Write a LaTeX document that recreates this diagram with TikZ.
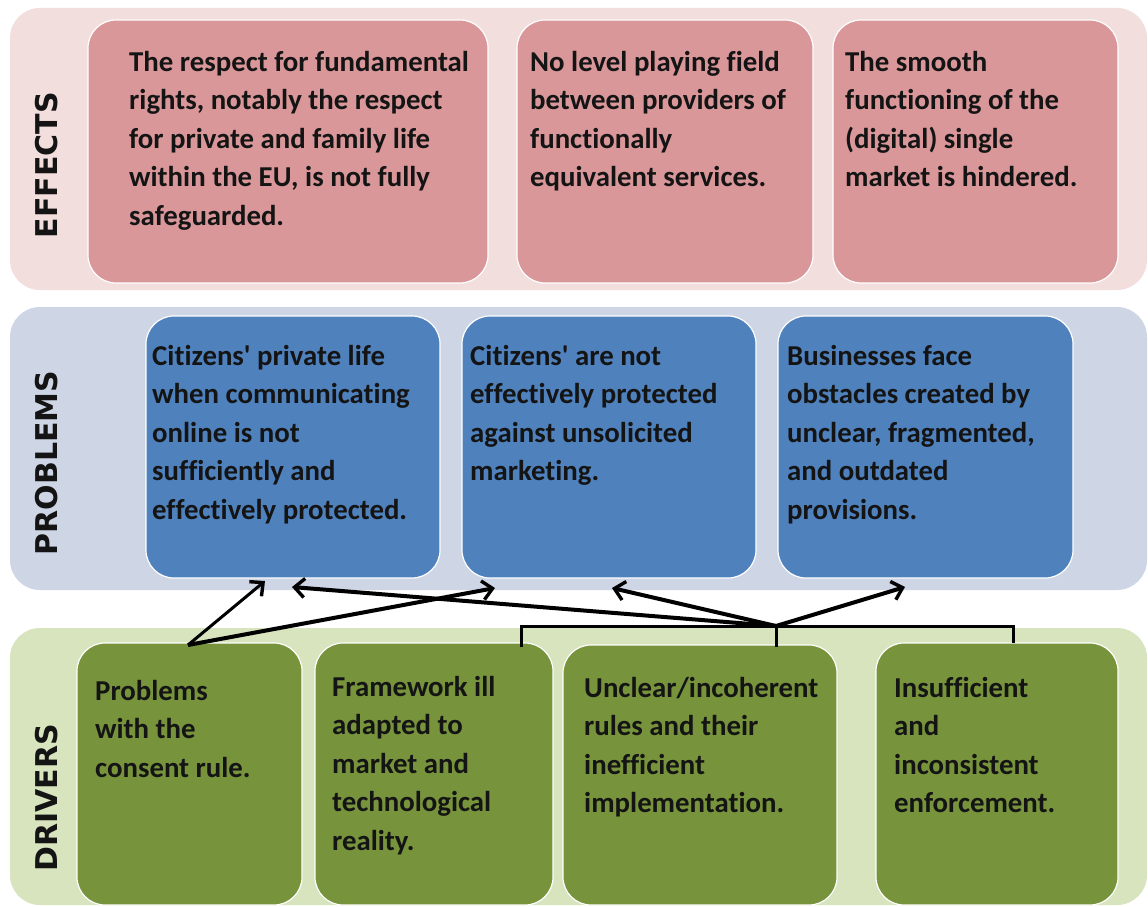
\documentclass[tikz,border=0pt]{standalone}
\usepackage{fontspec}
\setmainfont[Ligatures={CommonOff,TeXOff}]{Carlito}
\newfontfamily\labfont{DejaVu Sans}
\usetikzlibrary{arrows.meta,calc}
\definecolor{effband}{HTML}{F2DEDD}
\definecolor{effbox}{HTML}{D9979A}
\definecolor{probband}{HTML}{CED6E6}
\definecolor{probbox}{HTML}{4F81BD}
\definecolor{drvband}{HTML}{D7E4BD}
\definecolor{drvbox}{HTML}{77933C}
\definecolor{txt}{HTML}{141414}
\tikzset{
  band/.style={rounded corners=30pt},
  box/.style={rounded corners=28pt, draw=white, line width=1.2pt},
  boxtext/.style={anchor=north west, inner sep=0pt, align=left, text=txt,
    font=\fontsize{28.8}{38.4}\selectfont\bfseries},
  lab/.style={rotate=90, inner sep=0pt, text=txt,
    font=\labfont\fontsize{30}{32}\selectfont\bfseries},
  conn/.style={line width=4pt, -{Straight Barb[length=10pt,width=19pt,line width=3.4pt]}},
  brk/.style={line width=3pt}
}
\begin{document}
\begin{tikzpicture}[x=1pt,y=-1pt]
\useasboundingbox (0,0) rectangle (1148,907);
\fill[white] (0,0) rectangle (1148,907);
% bands
\fill[band, effband] (10,8) rectangle (1147,290);
\fill[band, probband] (10,307) rectangle (1147,590);
\fill[band, drvband] (10,628) rectangle (1147,905);
% band labels
\node[lab] (leff) at (47,165) {EFFECTS};
\node[lab] (lprob) at (47,463) {PROBLEMS};
\node[lab] (ldrv) at (47,798) {DRIVERS};
% effects boxes
\path[box, fill=effbox] (88,20) rectangle (488,283) node[pos=0.5] (e1) {};
\path[box, fill=effbox] (517,20) rectangle (813,283) node[pos=0.5] (e2) {};
\path[box, fill=effbox] (833,20) rectangle (1118,283) node[pos=0.5] (e3) {};
\node[boxtext] (te1) at (129,51) {The respect for fundamental\\rights, notably the respect\\for private and family life\\within the EU, is not fully\\safeguarded.};
\node[boxtext] (te2) at (530,51) {No level playing field\\between providers of\\functionally\\equivalent services.};
\node[boxtext] (te3) at (845,51) {The smooth\\functioning of the\\(digital) single\\market is hindered.};
% problem boxes
\path[box, fill=probbox] (146,316) rectangle (440,578) node[pos=0.5] (p1) {};
\path[box, fill=probbox] (462,316) rectangle (756,578) node[pos=0.5] (p2) {};
\path[box, fill=probbox] (778,316) rectangle (1073,578) node[pos=0.5] (p3) {};
\node[boxtext] (tp1) at (152,345) {Citizens' private life\\when communicating\\online is not\\sufficiently and\\effectively protected.};
\node[boxtext] (tp2) at (470,345) {Citizens' are not\\effectively protected\\against unsolicited\\marketing.};
\node[boxtext] (tp3) at (787,345) {Businesses face\\obstacles created by\\unclear, fragmented,\\and outdated\\provisions.};
% driver boxes
\path[box, fill=drvbox] (77,643) rectangle (302,905) node[pos=0.5] (d1) {};
\path[box, fill=drvbox] (315,643) rectangle (553,905) node[pos=0.5] (d2) {};
\path[box, fill=drvbox] (563,645) rectangle (837,905) node[pos=0.5] (d3) {};
\path[box, fill=drvbox] (876,643) rectangle (1118,905) node[pos=0.5] (d4) {};
\node[boxtext] (td1) at (95,680) {Problems\\with the\\consent rule.};
\node[boxtext] (td2) at (332,676) {Framework ill\\adapted to\\market and\\technological\\reality.};
\node[boxtext] (td3) at (584,677) {Unclear/incoherent\\rules and their\\inefficient\\implementation.};
\node[boxtext] (td4) at (894,677) {Insufficient\\and\\inconsistent\\enforcement.};
% connector points
\coordinate (s1) at (188,645);
\coordinate (s2) at (776,626);
\coordinate (t1) at (265,581);
\coordinate (t2) at (495,588);
\coordinate (t3) at (292,587);
\coordinate (t4) at (612,588);
\coordinate (t5) at (905,587);
\coordinate (b1) at (521,647);
\coordinate (b2) at (776,647);
\coordinate (b3) at (1013,643);
% bracket
\draw[brk] (b1) |- (s2) -| (b3);
\draw[brk] (s2) -- (b2);
% arrows
\draw[conn, line width=3pt] (s1) -- (t1);
\draw[conn] (s1) -- (t2);
\draw[conn] (s2) -- (t3);
\draw[conn] (s2) -- (t4);
\draw[conn] (s2) -- (t5);
\end{tikzpicture}
\end{document}
